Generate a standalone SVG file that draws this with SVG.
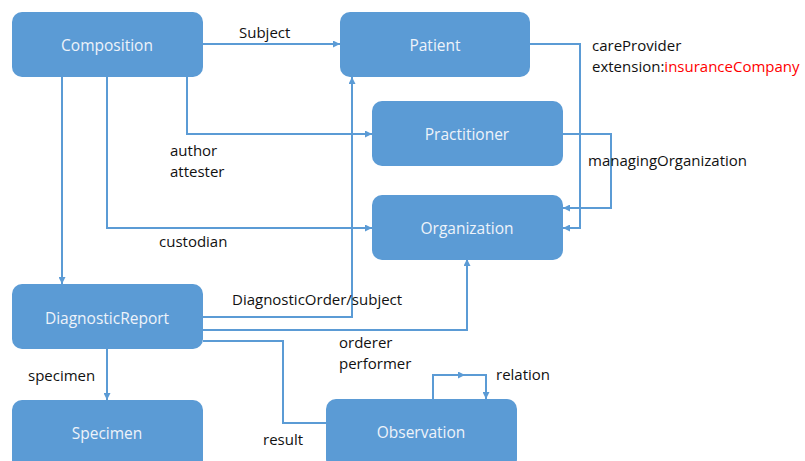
<svg xmlns="http://www.w3.org/2000/svg" width="805" height="461" viewBox="0 0 805 461">
<style>
.node rect{fill:#5B9BD5;}
.node text{fill:#EEF3FA;font-family:"Open Sans",sans-serif;font-size:15.5px;text-anchor:middle;dominant-baseline:central;}
.c{fill:none;stroke:#5B9BD5;stroke-width:2;}
.lbl{fill:#111;font-family:"Open Sans",sans-serif;font-size:15px;}
</style>
<defs>
<marker id="a" viewBox="0 0 10 10" refX="10" refY="5" markerWidth="3.5" markerHeight="3.5" orient="auto" markerUnits="strokeWidth">
<path d="M0,0 L10,5 L0,10 z" fill="#5B9BD5"/>
</marker>
</defs>
<rect width="805" height="461" fill="#fff"/>
<g id="connectors">
<path class="c" d="M203,44 H340" marker-end="url(#a)"/>
<path class="c" d="M62,77 V284" marker-end="url(#a)"/>
<path class="c" d="M107,77 V228 H372" marker-end="url(#a)"/>
<path class="c" d="M187,77 V134 H372" marker-end="url(#a)"/>
<path class="c" d="M203,317 H352 V77" marker-end="url(#a)"/>
<path class="c" d="M203,330 H467 V259" marker-end="url(#a)"/>
<path class="c" d="M203,341 H283 V423 H326"/>
<path class="c" d="M107,349 V400" marker-end="url(#a)"/>
<path class="c" d="M530,44 H580 V228 H563" marker-end="url(#a)"/>
<path class="c" d="M563,134 H611 V208 H563" marker-end="url(#a)"/>
<path class="c" d="M433,399 V375 H465" marker-end="url(#a)"/>
<path class="c" d="M463,375 H486 V399" marker-end="url(#a)"/>
</g>
<g id="composition" class="node"><rect x="12" y="12" width="191" height="65" rx="10"/><text x="107" y="45">Composition</text></g>
<g id="patient" class="node"><rect x="340" y="12" width="190" height="65" rx="10"/><text x="435" y="45">Patient</text></g>
<g id="practitioner" class="node"><rect x="372" y="101" width="191" height="65" rx="10"/><text x="467" y="134">Practitioner</text></g>
<g id="organization" class="node"><rect x="372" y="195" width="191" height="65" rx="10"/><text x="467" y="228">Organization</text></g>
<g id="diagnosticreport" class="node"><rect x="12" y="284" width="191" height="65" rx="10"/><text x="107" y="318">DiagnosticReport</text></g>
<g id="specimen" class="node"><rect x="12" y="400" width="191" height="70" rx="10"/><text x="107" y="433">Specimen</text></g>
<g id="observation" class="node"><rect x="326" y="399" width="191" height="70" rx="10"/><text x="421" y="432">Observation</text></g>
<g id="labels">
<text class="lbl" x="239" y="38">Subject</text>
<text class="lbl" x="170" y="156">author</text>
<text class="lbl" x="170" y="177">attester</text>
<text class="lbl" x="159" y="247">custodian</text>
<text class="lbl" x="592" y="51">careProvider</text>
<text class="lbl" x="592" y="72">extension:<tspan fill="#FF0000">insuranceCompany</tspan></text>
<text class="lbl" x="588" y="166">managingOrganization</text>
<text class="lbl" x="232" y="305">DiagnosticOrder/subject</text>
<text class="lbl" x="339" y="348">orderer</text>
<text class="lbl" x="339" y="369">performer</text>
<text class="lbl" x="28" y="381">specimen</text>
<text class="lbl" x="263" y="445">result</text>
<text class="lbl" x="496" y="380">relation</text>
</g>
</svg>
